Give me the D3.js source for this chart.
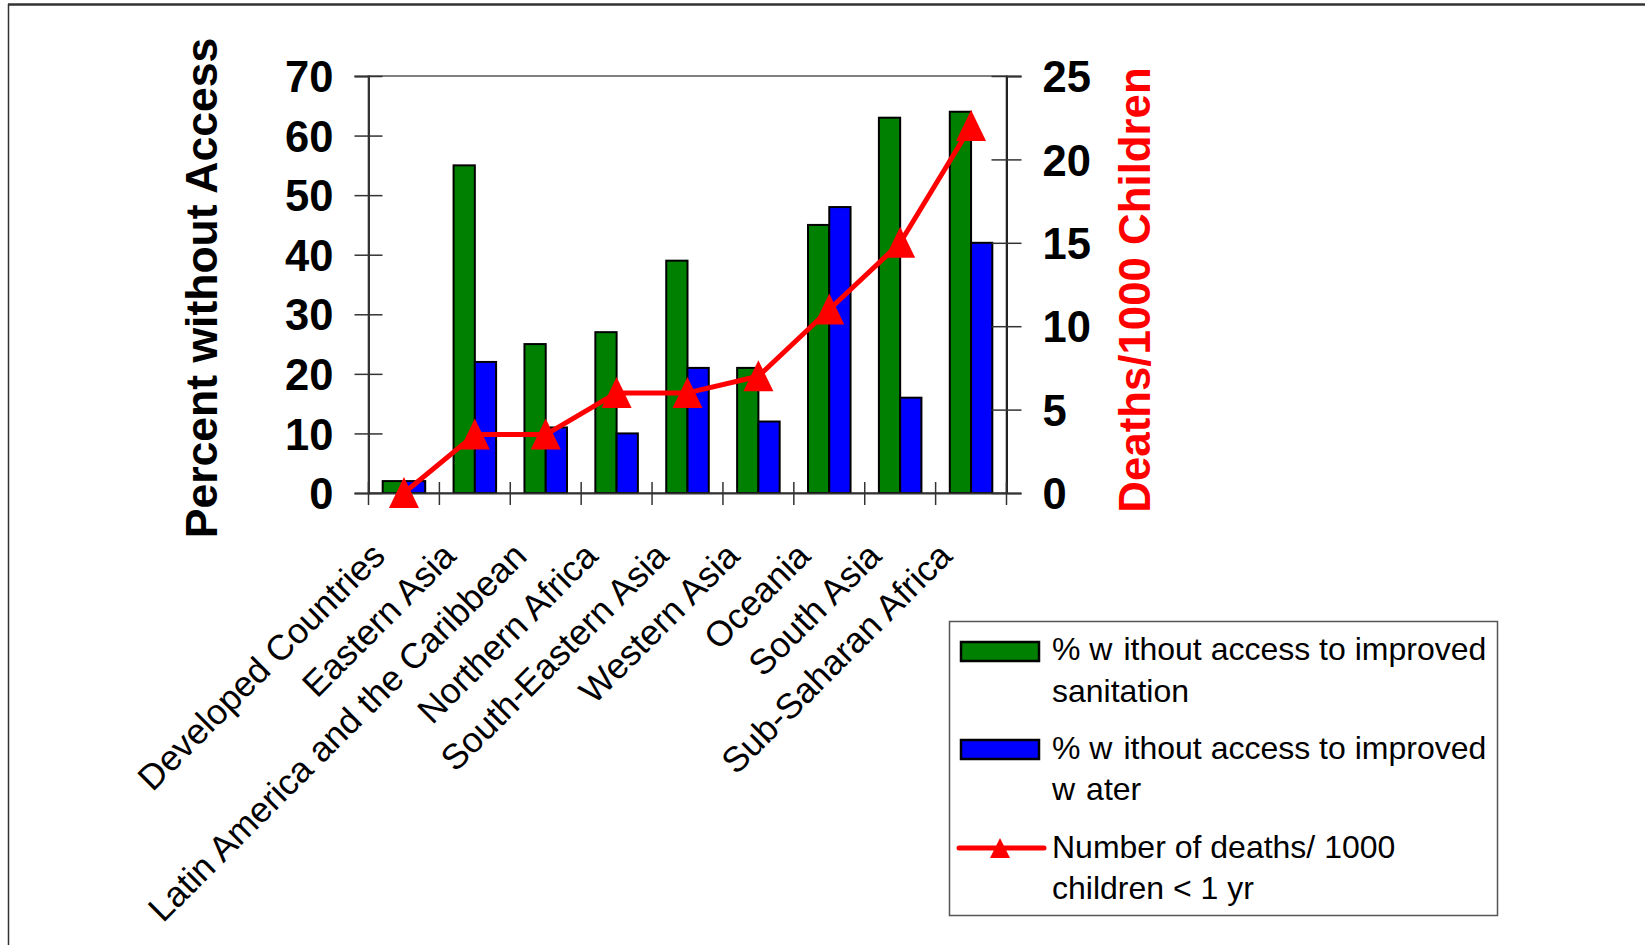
<!DOCTYPE html>
<html>
<head>
<meta charset="utf-8">
<script src="https://cdn.jsdelivr.net/npm/d3@7"></script>
<style>
  html, body { margin: 0; padding: 0; background: #fff; }
  svg { display: block; }
  text { font-family: "Liberation Sans", Arial, sans-serif; }
</style>
</head>
<body>
<svg id="chart" width="1645" height="945"></svg>
<script>
// Regions compared on the x axis
const categories = [
  "Developed Countries", "Eastern Asia", "Latin America and the Caribbean",
  "Northern Africa", "South-Eastern Asia", "Western Asia", "Oceania",
  "South Asia", "Sub-Saharan Africa"
];
// % without access to improved sanitation
const sanitation = [2, 55, 25, 27, 39, 21, 45, 63, 64];
// % without access to improved water
const water = [2, 22, 11, 10, 21, 12, 48, 16, 42];
// Deaths per 1000 children under 1 year
const deaths = [0, 3.5, 3.5, 6, 6, 7, 11, 15, 22];

const leftTicks = [0, 10, 20, 30, 40, 50, 60, 70];
const rightTicks = [0, 5, 10, 15, 20, 25];

const seriesKeys = ["sanitation", "water"];
const seriesColors = { sanitation: "#008000", water: "#0000ff" };
const legendLabels = [
  ["% w", "ithout access to improved", "sanitation"],
  ["% w", "ithout access to improved", "w", "ater"],
  ["Number of deaths/ 1000", "children < 1 yr"]
];

(function draw() {
  const svg = d3.select("#chart");

  // outer frame (top and left edges)
  svg.append("line").attr("x1", 8).attr("x2", 1645).attr("y1", 4.5).attr("y2", 4.5)
    .attr("stroke", "#333").attr("stroke-width", 2.5);
  svg.append("line").attr("x1", 8.5).attr("x2", 8.5).attr("y1", 4).attr("y2", 945)
    .attr("stroke", "#333").attr("stroke-width", 1.5);

  const plotL = 368.5, plotR = 1006.5, plotT = 76, plotB = 493;

  const x = d3.scaleBand().domain(categories).range([plotL, plotR]).paddingInner(0).paddingOuter(0);
  const xSub = d3.scaleBand().domain(seriesKeys).range([0, x.bandwidth()])
    .paddingInner(0).paddingOuter(0.667);
  const yL = d3.scaleLinear().domain([0, 70]).range([plotB, plotT]);
  const yR = d3.scaleLinear().domain([0, 25]).range([plotB, plotT]);

  // plot area border
  svg.append("rect").attr("x", plotL).attr("y", plotT)
    .attr("width", plotR - plotL).attr("height", plotB - plotT)
    .attr("fill", "none").attr("stroke", "#808080").attr("stroke-width", 2);

  // bars
  const rows = categories.map((c, i) => ({ c, sanitation: sanitation[i], water: water[i] }));
  const groups = svg.append("g").selectAll("g").data(rows).join("g")
    .attr("transform", d => `translate(${x(d.c)},0)`);
  groups.selectAll("rect")
    .data(d => seriesKeys.map(k => ({ k, v: d[k] })))
    .join("rect")
    .attr("x", d => xSub(d.k))
    .attr("width", xSub.bandwidth())
    .attr("y", d => yL(d.v))
    .attr("height", d => yL(0) - yL(d.v))
    .attr("fill", d => seriesColors[d.k])
    .attr("stroke", "#000").attr("stroke-width", 2);

  // left axis
  const axL = svg.append("g").attr("transform", `translate(${plotL},0)`)
    .call(d3.axisLeft(yL).tickValues(leftTicks).tickSize(14).tickPadding(0));
  axL.select(".domain").attr("stroke", "#333").attr("stroke-width", 2);
  axL.selectAll(".tick line").attr("x1", 14).attr("x2", -14).attr("stroke", "#333").attr("stroke-width", 1.5);
  axL.selectAll(".tick text").attr("x", -35).attr("dy", "0.36em")
    .attr("font-size", 43.5).attr("font-weight", "bold").attr("fill", "#000")
    .style("font-family", "'Liberation Sans', Arial, sans-serif");

  // right axis
  const axR = svg.append("g").attr("transform", `translate(${plotR},0)`)
    .call(d3.axisRight(yR).tickValues(rightTicks).tickSize(15).tickPadding(0));
  axR.select(".domain").attr("stroke", "#222").attr("stroke-width", 2);
  axR.selectAll(".tick line").attr("x1", -15).attr("x2", 15).attr("stroke", "#333").attr("stroke-width", 1.5);
  axR.selectAll(".tick text").attr("x", 36).attr("dy", "0.36em")
    .attr("font-size", 43.5).attr("font-weight", "bold").attr("fill", "#000")
    .style("font-family", "'Liberation Sans', Arial, sans-serif");

  // bottom axis with category separators
  const axB = svg.append("g").attr("transform", `translate(0,${plotB})`)
    .call(d3.axisBottom(x).tickSize(0).tickFormat(""));
  axB.select(".domain").attr("stroke", "#333").attr("stroke-width", 2);
  axB.selectAll(".tick").remove();
  const sepPos = categories.map(c => x(c)).concat([plotR]);
  axB.selectAll("line.sep").data(sepPos).join("line").attr("class", "sep")
    .attr("x1", d => d).attr("x2", d => d).attr("y1", -11).attr("y2", 12)
    .attr("stroke", "#333").attr("stroke-width", 1.5);

  // category labels
  svg.append("g").selectAll("text").data(categories).join("text")
    .attr("transform", d => `translate(${x(d) + x.bandwidth() / 2 - 17},558) rotate(-45)`)
    .attr("text-anchor", "end").attr("font-size", 35.5).attr("fill", "#000")
    .text(d => d);

  // deaths line with triangle markers
  const pts = categories.map((c, i) => [x(c) + x.bandwidth() / 2, yR(deaths[i])]);
  svg.append("path").attr("d", d3.line()(pts))
    .attr("fill", "none").attr("stroke", "#ff0000").attr("stroke-width", 5)
    .attr("stroke-linejoin", "round");
  const tri = (cx, cy, hw, up, down) => `M${cx},${cy - up}L${cx + hw},${cy + down}L${cx - hw},${cy + down}Z`;
  svg.append("g").selectAll("path").data(pts).join("path")
    .attr("d", d => tri(d[0], d[1], 15, 16, 15))
    .attr("fill", "#ff0000");

  // axis titles
  svg.append("text").attr("transform", "translate(216.5,288) rotate(-90)")
    .attr("text-anchor", "middle").attr("font-size", 44.5).attr("font-weight", "bold")
    .attr("fill", "#000").text("Percent without Access");
  svg.append("text").attr("transform", "translate(1150,290) rotate(-90)")
    .attr("text-anchor", "middle").attr("font-size", 43.8).attr("font-weight", "bold")
    .attr("fill", "#ff0000").text("Deaths/1000 Children");

  // legend
  const lg = svg.append("g");
  lg.append("rect").attr("x", 949.5).attr("y", 621.5).attr("width", 548).attr("height", 294)
    .attr("fill", "#fff").attr("stroke", "#555").attr("stroke-width", 1.5);
  lg.append("rect").attr("x", 961).attr("y", 642).attr("width", 78).attr("height", 19)
    .attr("fill", seriesColors.sanitation).attr("stroke", "#000").attr("stroke-width", 2.5);
  lg.append("rect").attr("x", 961).attr("y", 740).attr("width", 78).attr("height", 19)
    .attr("fill", seriesColors.water).attr("stroke", "#000").attr("stroke-width", 2.5);
  lg.append("line").attr("x1", 959).attr("x2", 1044).attr("y1", 848).attr("y2", 848)
    .attr("stroke", "#ff0000").attr("stroke-width", 5).attr("stroke-linecap", "round");
  lg.append("path").attr("d", tri(1000, 848, 10, 10, 10)).attr("fill", "#ff0000");

  const tx = 1052;
  function legendLine(y, parts) {
    const t = lg.append("text").attr("x", tx).attr("y", y).attr("font-size", 32).attr("fill", "#000");
    parts.forEach((p, i) => t.append("tspan").attr("dx", i === 0 ? 0 : 11).text(p));
  }
  legendLine(660, [legendLabels[0][0], legendLabels[0][1]]);
  legendLine(701.5, [legendLabels[0][2]]);
  legendLine(758.5, [legendLabels[1][0], legendLabels[1][1]]);
  legendLine(800, [legendLabels[1][2], legendLabels[1][3]]);
  legendLine(857.5, [legendLabels[2][0]]);
  legendLine(898.5, [legendLabels[2][1]]);
})();
</script>
</body>
</html>
